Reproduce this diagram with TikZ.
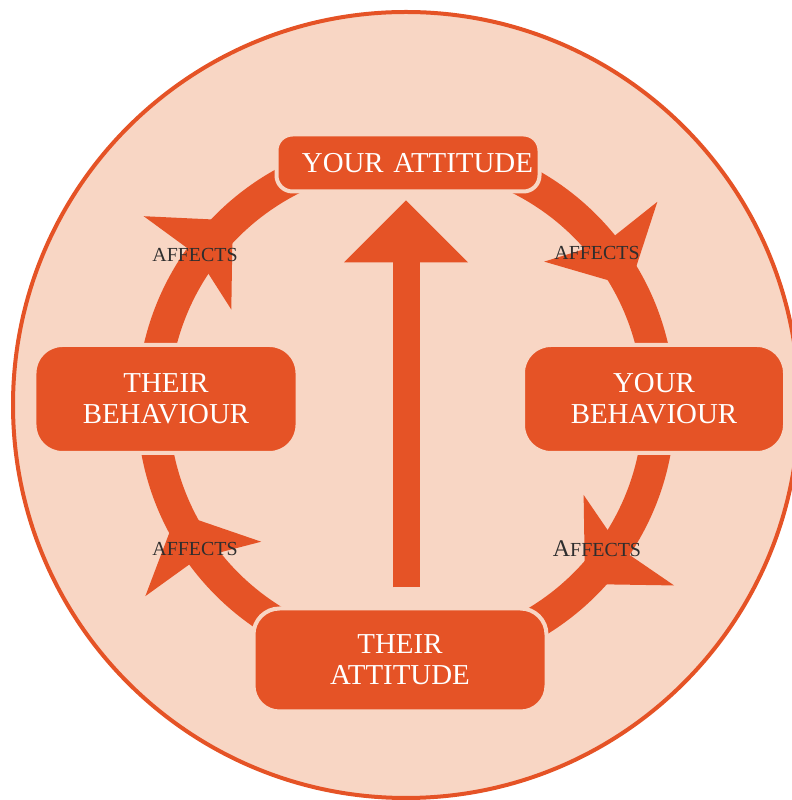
\documentclass[tikz,border=0pt]{standalone}
\usepackage{fontspec}
\setmainfont{Liberation Serif}
\usetikzlibrary{
        arrows.meta,
        backgrounds,
        decorations.markings
    }
\definecolor{brand}{HTML}{E55326}
\definecolor{peach}{HTML}{F8D6C4}
\definecolor{ink}{HTML}{2E2E2E}
\tikzset{x=1bp,y=1bp}

\begin{document}
\begin{tikzpicture}[
        box/.style={fill=brand,draw=peach,line width=4bp,text=white,align=center,
                    inner sep=0pt,font=\fontsize{29}{31}\selectfont},
        affects/.style={text=ink,font=\fontsize{20}{22}\selectfont},
        band/.style={draw=brand,line width=32bp},
        flow/.style={band,postaction={decorate},
                     decoration={markings,mark=at position #1 with
                       {\arrow{Stealth[length=62bp,width=128bp,inset=12bp,line width=0pt]}}}}
    ]
                \useasboundingbox (0,0) rectangle (792,800);
                \coordinate (hub) at (406,395);
                \node[box,minimum width=263bp,minimum height=57bp,rounded corners=16bp,
                      text width=250bp,align=right] (ya) at (408,637) {YOUR ATTITUDE};
                \node[box,minimum width=262bp,minimum height=108bp,rounded corners=28bp] (yb) at (654,401) {YOUR\\BEHAVIOUR};
                \node[box,minimum width=293bp,minimum height=103bp,rounded corners=26bp] (ta) at (400,140) {THEIR\\ATTITUDE};
                \node[box,minimum width=263bp,minimum height=108bp,rounded corners=28bp] (tb) at (166,401) {THEIR\\BEHAVIOUR};
                \node[affects] (af1) at (195,545) {AFFECTS};
                \node[affects] (af2) at (597,547) {AFFECTS};
                \node[affects] (af3) at (597,251) {{\fontsize{24}{24}\selectfont A}FFECTS};
                \node[affects] (af4) at (195,251) {AFFECTS};
                \begin{scope}[on background layer]
                        \fill[peach,draw=brand,line width=4bp] (hub) circle[radius=393];
                        \path (hub) ++(90:253) coordinate (pn)
                              (hub) ++(0:253) coordinate (pe)
                              (hub) ++(-90:253) coordinate (ps)
                              (hub) ++(180:253) coordinate (pw);
                        \draw[flow=0.52] (pw) to[out=90,in=180] (pn);
                        \draw[flow=0.69] (pn) to[out=0,in=90] (pe);
                        \draw[flow=0.50] (pe) to[out=-90,in=0] (ps);
                        \draw[flow=0.72] (ps) to[out=180,in=-90] (pw);
                        \draw[brand,line width=27bp,shorten <=19bp,shorten >=7bp,
                              -{Triangle[length=62bp,width=124bp,line width=0pt]}]
                                (ta.north -| hub) -- (ya.south -| hub);
                \end{scope}
\end{tikzpicture}
\end{document}
